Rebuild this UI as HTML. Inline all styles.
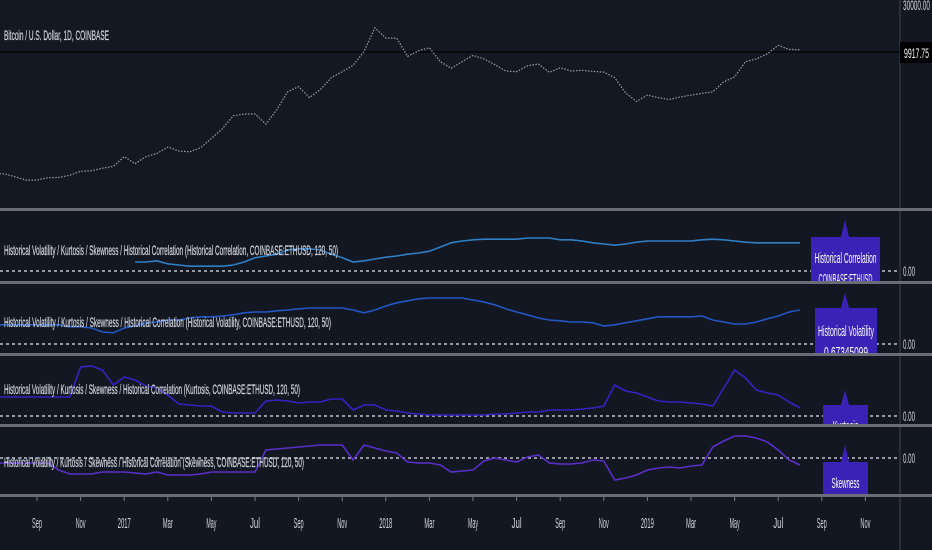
<!DOCTYPE html>
<html><head><meta charset="utf-8"><style>
html,body{margin:0;padding:0;background:#131722;}
svg{display:block;font-family:"Liberation Sans",sans-serif;}
</style></head><body>
<svg id="chart" width="932" height="550" viewBox="0 0 932 550" xmlns="http://www.w3.org/2000/svg">
<defs>
<clipPath id="cp0"><rect x="0" y="0" width="900" height="208"/></clipPath>
<clipPath id="cp1"><rect x="0" y="211" width="932" height="70"/></clipPath>
<clipPath id="cp2"><rect x="0" y="284" width="932" height="69"/></clipPath>
<clipPath id="cp3"><rect x="0" y="356" width="932" height="68"/></clipPath>
<clipPath id="cp4"><rect x="0" y="427" width="932" height="67"/></clipPath>
</defs>
<rect x="0" y="0" width="932" height="550" fill="#131722"/>
<rect x="0" y="0" width="900" height="208" fill="#141823"/>
<line x1="900" y1="0" x2="900" y2="550" stroke="#434651" stroke-width="1"/>
<g id="zero-lines"></g>
<line x1="0" y1="52" x2="900" y2="52" stroke="#000000" stroke-width="1.2"/>
<g id="marks"></g>
<g id="separators" fill="#6a6d78">
<rect x="0" y="208" width="932" height="3"/>
<rect x="0" y="281" width="932" height="3"/>
<rect x="0" y="353" width="932" height="3"/>
<rect x="0" y="424" width="932" height="3"/>
<rect x="0" y="494" width="932" height="3"/>
</g>
<g fill="#d1d4dc" font-size="14" stroke="#d1d4dc" stroke-width="0.25">
<text x="4" y="40" textLength="105" lengthAdjust="spacingAndGlyphs">Bitcoin / U.S. Dollar, 1D, COINBASE</text>
<text x="4" y="255" textLength="334" lengthAdjust="spacingAndGlyphs">Historical Volatility / Kurtosis / Skewness / Historical Correlation (Historical Correlation, COINBASE:ETHUSD, 120, 50)</text>
<text x="4" y="327" textLength="327" lengthAdjust="spacingAndGlyphs">Historical Volatility / Kurtosis / Skewness / Historical Correlation (Historical Volatility, COINBASE:ETHUSD, 120, 50)</text>
<text x="4" y="394" textLength="296" lengthAdjust="spacingAndGlyphs">Historical Volatility / Kurtosis / Skewness / Historical Correlation (Kurtosis, COINBASE:ETHUSD, 120, 50)</text>
<text x="4" y="467" textLength="300" lengthAdjust="spacingAndGlyphs">Historical Volatility / Kurtosis / Skewness / Historical Correlation (Skewness, COINBASE:ETHUSD, 120, 50)</text>
</g>
<g fill="#3b22b6">
<g clip-path="url(#cp1)">
<path d="M845 220 L849 237 L880 237 L880 290 L811 290 L811 237 L841 237 Z"/>
<text x="845.5" y="263" fill="#fff" font-size="15" text-anchor="middle" textLength="62" lengthAdjust="spacingAndGlyphs">Historical Correlation</text>
<text x="845.5" y="284" fill="#fff" font-size="15" text-anchor="middle" textLength="54" lengthAdjust="spacingAndGlyphs">COINBASE:ETHUSD</text>
</g>
<g clip-path="url(#cp2)">
<path d="M845 293 L849 308 L877 308 L877 360 L815 360 L815 308 L841 308 Z"/>
<text x="846" y="336" fill="#fff" font-size="15" text-anchor="middle" textLength="56" lengthAdjust="spacingAndGlyphs">Historical Volatility</text>
<text x="846" y="357" fill="#fff" font-size="15" text-anchor="middle" textLength="44" lengthAdjust="spacingAndGlyphs">0.67345099</text>
</g>
<g clip-path="url(#cp3)">
<path d="M845 390 L849 405 L868 405 L868 440 L823 440 L823 405 L841 405 Z"/>
<text x="845.5" y="431" fill="#fff" font-size="15" text-anchor="middle" textLength="26" lengthAdjust="spacingAndGlyphs">Kurtosis</text>
</g>
<g clip-path="url(#cp4)">
<path d="M845 445 L849 462 L868 462 L868 500 L823 500 L823 462 L841 462 Z"/>
<text x="845.5" y="488" fill="#fff" font-size="15" text-anchor="middle" textLength="28" lengthAdjust="spacingAndGlyphs">Skewness</text>
</g>
</g>
<g fill="#d1d4dc" font-size="14">
<text x="903" y="10" textLength="27" lengthAdjust="spacingAndGlyphs">30000.00</text>
<rect x="900" y="42" width="32" height="21" fill="#000"/>
<text x="904" y="58" fill="#fff" textLength="25" lengthAdjust="spacingAndGlyphs">9917.75</text>
</g>
<g id="axis"></g>
</svg>
<script>
const months = ["Sep","Nov","2017","Mar","May","Jul","Sep","Nov","2018","Mar","May","Jul","Sep","Nov","2019","Mar","May","Jul","Sep","Nov"];
const monthIdx = [2,4,6,8,10,12,14,16,18,20,22,24,26,28,30,32,34,36,38,40];
const price = [670,660,620,575,575,607,610,640,700,710,750,780,970,830,970,1040,1200,1100,1080,1180,1450,1800,2400,2500,2500,2000,2750,4100,4600,3600,4300,5600,6400,7400,10000,17000,13500,13500,9000,10200,10900,8000,6900,8000,9200,8500,7500,6500,6400,7300,7600,6300,7000,6500,6600,6450,6350,5600,4000,3300,3800,3600,3450,3650,3800,3950,4100,5100,5700,8000,8500,9500,11500,10500,10400];
const corr = [null,null,null,null,null,null,null,null,null,null,null,null,null,.15,.15,.17,.12,.10,.08,.08,.08,.08,.10,.15,.22,.25,.28,.35,.37,.37,.35,.28,.22,.15,.17,.20,.23,.25,.28,.30,.33,.40,.47,.50,.52,.53,.53,.53,.53,.55,.55,.55,.52,.52,.50,.47,.45,.43,.45,.48,.50,.50,.50,.50,.50,.52,.53,.52,.50,.48,.47,.47,.47,.47,.47];
const vol = [.48,.48,.48,.48,.48,.48,.48,.43,.43,.40,.30,.28,.40,.45,.53,.55,.60,.60,.65,.68,.68,.70,.73,.78,.80,.80,.83,.85,.88,.90,.90,.90,.90,.85,.78,.85,.95,1.03,1.08,1.13,1.15,1.15,1.15,1.15,1.10,1.05,.98,.88,.80,.73,.65,.60,.58,.55,.55,.53,.45,.48,.53,.58,.63,.68,.68,.68,.68,.70,.60,.55,.50,.50,.55,.63,.70,.80,.85];
const kurt = [1.9,1.9,1.9,1.9,1.9,1.9,1.9,1.9,4.9,5.0,4.6,3.1,3.9,3.6,3.0,2.8,2.1,1.2,1.1,1.0,1.0,0.4,0.3,0.3,0.3,1.5,1.6,1.5,1.3,1.4,1.4,1.7,1.7,0.6,1.1,1.1,0.6,0.5,0.3,0.2,0.1,0.1,0.1,0.1,0.1,0.1,0.2,0.2,0.3,0.4,0.4,0.6,0.6,0.6,0.7,0.8,1.0,3.1,2.5,2.3,1.9,1.5,1.4,1.4,1.3,1.2,1.0,2.8,4.6,3.8,2.6,2.3,2.1,1.4,0.8];
const skew = [-.25,-.25,-.25,-.25,-.25,-.25,-.6,-.8,-.8,-.8,-.7,-.7,-.7,-.75,-.8,-.7,-.85,-.85,-.85,-.8,-.7,-.7,-.7,-.7,-.7,.4,.45,.5,.55,.6,.65,.65,.65,-.1,.65,.5,.35,.25,-.2,-.25,-.25,-.35,-.7,-.65,-.6,-.15,0,-.1,-.2,.05,.15,-.25,-.3,-.3,-.25,-.1,-.15,-1.1,-1.0,-.85,-.6,-.5,-.45,-.5,-.4,-.35,.55,.85,1.1,1.1,1.0,.8,.4,-.1,-.35];
const zeroLabels = ["0.00","0.00","0.00","0.00"];

const NS = "http://www.w3.org/2000/svg";
function xScale(k){ return -6.6 + 10.9*k; }
function yPrice(p){ return 52 - 45*Math.log(p/9917.75); }
const panes = [
 {data: corr, zero: 271, scale: 60, color: "#2f7fc4", clip: "cp1", name: "correlation-line"},
 {data: vol, zero: 344, scale: 40, color: "#2357c4", clip: "cp2", name: "volatility-line"},
 {data: kurt, zero: 416, scale: 10, color: "#3423c2", clip: "cp3", name: "kurtosis-line"},
 {data: skew, zero: 458, scale: 20, color: "#5a2fc8", clip: "cp4", name: "skewness-line"}
];
const marks = document.getElementById("marks");
const zl = document.getElementById("zero-lines");
const axis = document.getElementById("axis");

let pd = "";
price.forEach((p,k)=>{ pd += (k? "L":"M") + xScale(k).toFixed(1) + " " + yPrice(p).toFixed(1); });
const pp = document.createElementNS(NS,"path");


pp.setAttribute("d", pd);
pp.setAttribute("fill","none");
pp.setAttribute("stroke","#9a9da6");
pp.setAttribute("stroke-width","1.2");
pp.setAttribute("stroke-dasharray","1.5 1.5");
pp.setAttribute("clip-path","url(#cp0)");
marks.appendChild(pp);

panes.forEach((pn,i)=>{
  const z = document.createElementNS(NS,"line");
  
  
  z.setAttribute("x1","0"); z.setAttribute("x2","900");
  z.setAttribute("y1",pn.zero); z.setAttribute("y2",pn.zero);
  z.setAttribute("stroke","#9598a1"); z.setAttribute("stroke-width","2");
  z.setAttribute("stroke-dasharray","3 3");
  zl.appendChild(z);
  const t = document.createElementNS(NS,"text");
  
  
  t.setAttribute("x","903"); t.setAttribute("y", pn.zero+5);
  t.setAttribute("fill","#d1d4dc"); t.setAttribute("font-size","14");
  t.setAttribute("textLength","12"); t.setAttribute("lengthAdjust","spacingAndGlyphs");
  t.textContent = zeroLabels[i];
  axis.appendChild(t);
  let d = ""; let started = false;
  pn.data.forEach((v,k)=>{
    if(v===null) return;
    d += (started? "L":"M") + xScale(k).toFixed(1) + " " + (pn.zero - v*pn.scale).toFixed(1);
    started = true;
  });
  const p = document.createElementNS(NS,"path");
  
  
  p.setAttribute("d", d);
  p.setAttribute("fill","none");
  p.setAttribute("stroke", pn.color);
  p.setAttribute("stroke-width","1.6");
  p.setAttribute("clip-path","url(#"+pn.clip+")");
  marks.appendChild(p);
});

months.forEach((m,i)=>{
  const x = xScale(monthIdx[i]*2);
  const tk = document.createElementNS(NS,"line");
  
  
  tk.setAttribute("x1",x); tk.setAttribute("x2",x);
  tk.setAttribute("y1","497"); tk.setAttribute("y2","501");
  tk.setAttribute("stroke","#787b86");
  axis.appendChild(tk);
  const t = document.createElementNS(NS,"text");
  
  
  t.setAttribute("x",x); t.setAttribute("y","528");
  t.setAttribute("text-anchor","middle");
  t.setAttribute("fill","#d1d4dc"); t.setAttribute("font-size","15");
  t.setAttribute("textLength", m.length===4 ? "13" : "10");
  t.setAttribute("lengthAdjust","spacingAndGlyphs");
  t.textContent = m;
  axis.appendChild(t);
});
</script>
</body></html>
